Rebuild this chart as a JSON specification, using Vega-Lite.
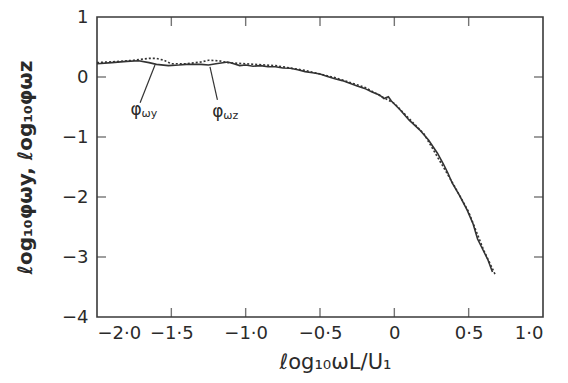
{
  "$schema": "https://vega.github.io/schema/vega-lite/v6.json",
  "autosize": {"type": "none"},
  "width": 446,
  "height": 300,
  "padding": {"left": 97, "top": 17, "right": 25, "bottom": 66},
  "background": "white",
  "config": {
    "view": {"stroke": "#3a3a3a", "strokeWidth": 1.6},
    "font": "DejaVu Sans",
    "axis": {"grid": false, "domain": false, "ticks": false, "labelColor": "#2a2a2a", "titleColor": "#2a2a2a", "labelFont": "DejaVu Sans", "titleFont": "DejaVu Sans", "labelFontSize": 18, "titleFontSize": 21, "titleFontWeight": "normal"}
  },
  "datasets": {
    "z": [
      {"x": -2.0, "y": 0.22}, {"x": -1.9, "y": 0.24}, {"x": -1.8, "y": 0.26}, {"x": -1.72, "y": 0.27},
      {"x": -1.65, "y": 0.24}, {"x": -1.6, "y": 0.21}, {"x": -1.52, "y": 0.19}, {"x": -1.45, "y": 0.2},
      {"x": -1.4, "y": 0.21}, {"x": -1.3, "y": 0.21}, {"x": -1.25, "y": 0.2}, {"x": -1.2, "y": 0.22},
      {"x": -1.12, "y": 0.25}, {"x": -1.08, "y": 0.22}, {"x": -1.04, "y": 0.19}, {"x": -1.0, "y": 0.2},
      {"x": -0.95, "y": 0.18}, {"x": -0.9, "y": 0.19}, {"x": -0.85, "y": 0.17}, {"x": -0.8, "y": 0.17},
      {"x": -0.75, "y": 0.15}, {"x": -0.7, "y": 0.145}, {"x": -0.65, "y": 0.12}, {"x": -0.6, "y": 0.09},
      {"x": -0.55, "y": 0.07}, {"x": -0.5, "y": 0.05}, {"x": -0.45, "y": 0.01}, {"x": -0.4, "y": -0.03},
      {"x": -0.35, "y": -0.06}, {"x": -0.3, "y": -0.105}, {"x": -0.25, "y": -0.15}, {"x": -0.2, "y": -0.19},
      {"x": -0.15, "y": -0.25}, {"x": -0.1, "y": -0.3}, {"x": -0.07, "y": -0.36}, {"x": -0.04, "y": -0.33},
      {"x": -0.02, "y": -0.4}, {"x": 0.0, "y": -0.45}, {"x": 0.04, "y": -0.55}, {"x": 0.1, "y": -0.72}, {"x": 0.17, "y": -0.88},
      {"x": 0.23, "y": -1.05}, {"x": 0.29, "y": -1.27}, {"x": 0.33, "y": -1.45}, {"x": 0.36, "y": -1.6},
      {"x": 0.39, "y": -1.77}, {"x": 0.44, "y": -1.98}, {"x": 0.49, "y": -2.22}, {"x": 0.53, "y": -2.45},
      {"x": 0.56, "y": -2.7}, {"x": 0.6, "y": -2.9}, {"x": 0.63, "y": -3.05}, {"x": 0.66, "y": -3.25}
    ],
    "yy": [
      {"x": -2.0, "y": 0.24}, {"x": -1.85, "y": 0.26}, {"x": -1.75, "y": 0.28}, {"x": -1.65, "y": 0.31},
      {"x": -1.6, "y": 0.31}, {"x": -1.55, "y": 0.28}, {"x": -1.5, "y": 0.22}, {"x": -1.4, "y": 0.22},
      {"x": -1.3, "y": 0.25}, {"x": -1.25, "y": 0.28}, {"x": -1.18, "y": 0.27}, {"x": -1.12, "y": 0.24},
      {"x": -1.0, "y": 0.22}, {"x": -0.8, "y": 0.19}, {"x": -0.6, "y": 0.11}, {"x": -0.4, "y": -0.01},
      {"x": -0.2, "y": -0.17}, {"x": 0.0, "y": -0.44}, {"x": 0.2, "y": -0.95}, {"x": 0.4, "y": -1.8},
      {"x": 0.5, "y": -2.25}, {"x": 0.6, "y": -2.88}, {"x": 0.68, "y": -3.3}
    ],
    "leaders": [
      {"id": "y", "x": -1.61, "y": 0.2, "x2": -1.71, "y2": -0.43},
      {"id": "z", "x": -1.24, "y": 0.17, "x2": -1.19, "y2": -0.38}
    ],
    "labels": [
      {"x": -1.7, "y": -0.55, "main": "φ", "sub": "ωy"},
      {"x": -1.15, "y": -0.58, "main": "φ", "sub": "ωz"}
    ],
    "xticks": [{"v": -1.5}, {"v": -1.0}, {"v": -0.5}, {"v": 0}, {"v": 0.5}],
    "yticks": [{"v": -3}, {"v": -2}, {"v": -1}, {"v": 0}]
  },
  "layer": [
    {
      "data": {"name": "z"},
      "mark": {"type": "line", "color": "#333333", "strokeWidth": 1.6},
      "encoding": {
        "x": {"field": "x", "type": "quantitative", "scale": {"domain": [-2, 1], "nice": false},
          "axis": {"orient": "bottom", "values": [-2, -1.5, -1, -0.5, 0, 0.5, 1], "labelPadding": 7,
            "labelExpr": "datum.value == 0 ? '0' : replace(replace(format(datum.value, '.1f'), '.', '·'), '-', '−')",
            "title": "ℓog₁₀ωL/U₁", "titlePadding": 9, "titleX": 238}},
        "y": {"field": "y", "type": "quantitative", "scale": {"domain": [-4, 1], "nice": false},
          "axis": {"orient": "left", "values": [-4, -3, -2, -1, 0, 1], "labelPadding": 9,
            "labelExpr": "replace(format(datum.value, 'd'), '-', '−')",
            "title": "ℓog₁₀φωy, ℓog₁₀φωz", "titlePadding": 26, "titleFontWeight": "bold", "titleFontSize": 20}}
      }
    },
    {
      "data": {"name": "yy"},
      "mark": {"type": "line", "color": "#333333", "strokeWidth": 1.6, "strokeDash": [2, 2]},
      "encoding": {
        "x": {"field": "x", "type": "quantitative"},
        "y": {"field": "y", "type": "quantitative"}
      }
    },
    {
      "data": {"name": "xticks"},
      "mark": {"type": "tick", "orient": "vertical", "size": 18, "thickness": 1.4, "color": "#3a3a3a", "clip": true},
      "encoding": {
        "x": {"field": "v", "type": "quantitative"},
        "y": {"datum": -4, "type": "quantitative"}
      }
    },
    {
      "data": {"name": "xticks"},
      "mark": {"type": "tick", "orient": "vertical", "size": 18, "thickness": 1.4, "color": "#3a3a3a", "clip": true},
      "encoding": {
        "x": {"field": "v", "type": "quantitative"},
        "y": {"datum": 1, "type": "quantitative"}
      }
    },
    {
      "data": {"name": "yticks"},
      "mark": {"type": "tick", "orient": "horizontal", "size": 18, "thickness": 1.4, "color": "#3a3a3a", "clip": true},
      "encoding": {
        "y": {"field": "v", "type": "quantitative"},
        "x": {"datum": -2, "type": "quantitative"}
      }
    },
    {
      "data": {"name": "yticks"},
      "mark": {"type": "tick", "orient": "horizontal", "size": 18, "thickness": 1.4, "color": "#3a3a3a", "clip": true},
      "encoding": {
        "y": {"field": "v", "type": "quantitative"},
        "x": {"datum": 1, "type": "quantitative"}
      }
    },
    {
      "data": {"name": "leaders"},
      "mark": {"type": "rule", "color": "#333333", "strokeWidth": 1.2},
      "encoding": {
        "x": {"field": "x", "type": "quantitative"},
        "y": {"field": "y", "type": "quantitative"},
        "x2": {"field": "x2"},
        "y2": {"field": "y2"}
      }
    },
    {
      "data": {"name": "labels"},
      "mark": {"type": "text", "align": "right", "baseline": "middle", "fontSize": 17, "color": "#2a2a2a"},
      "encoding": {
        "x": {"field": "x", "type": "quantitative"},
        "y": {"field": "y", "type": "quantitative"},
        "text": {"field": "main"}
      }
    },
    {
      "data": {"name": "labels"},
      "mark": {"type": "text", "align": "left", "baseline": "middle", "fontSize": 11, "color": "#2a2a2a", "dy": 4},
      "encoding": {
        "x": {"field": "x", "type": "quantitative"},
        "y": {"field": "y", "type": "quantitative"},
        "text": {"field": "sub"}
      }
    }
  ]
}
